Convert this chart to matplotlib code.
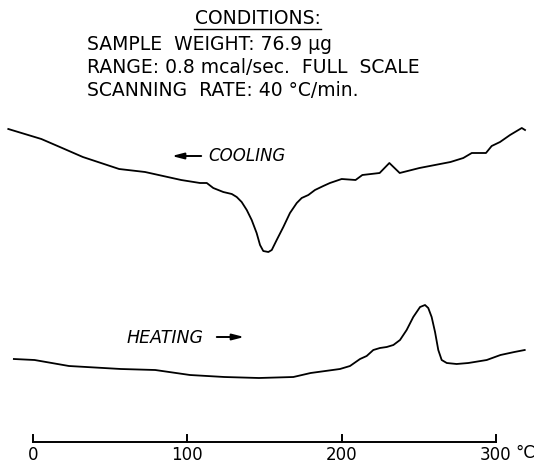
import matplotlib
matplotlib.use("Agg")
import matplotlib.pyplot as plt

# ---- data (temperature in °C, signal in arbitrary units) ----
cool_T = [-16.0, 5.4, 18.9, 32.3, 55.8, 72.6, 96.0, 108.2, 112.6, 116.8, 123.3,
          128.8, 132.0, 135.2, 138.5, 141.7, 144.9, 147.1, 149.2, 152.5, 154.7,
          157.9, 162.2, 166.5, 170.9, 174.1, 178.4, 182.7, 188.1, 192.4, 200.0,
          209.0, 213.4, 224.6, 230.9, 237.6, 250.4, 270.5, 278.8, 284.3, 293.5,
          297.2, 302.6, 309.1, 316.7, 318.8]
cool_S = [3.38, 3.28, 3.19, 3.10, 2.98, 2.95, 2.87, 2.84, 2.84, 2.79, 2.75,
          2.73, 2.70, 2.65, 2.57, 2.47, 2.34, 2.22, 2.16, 2.15, 2.17,
          2.27, 2.40, 2.54, 2.64, 2.69, 2.72, 2.77, 2.81, 2.84, 2.88,
          2.87, 2.92, 2.94, 3.04, 2.94, 2.99, 3.05, 3.09, 3.14, 3.14,
          3.21, 3.25, 3.32, 3.39, 3.37]

heat_T = [-12.4, 1.0, 23.3, 34.5, 56.9, 79.2, 101.7, 124.0, 146.4, 168.7, 179.9,
          198.9, 205.4, 211.9, 216.2, 220.5, 224.8, 229.2, 233.5, 237.8, 242.1,
          246.4, 250.8, 254.0, 256.1, 258.3, 260.5, 262.6, 264.8, 268.1, 274.5,
          282.1, 294.0, 302.9, 311.9, 318.6]
heat_S = [1.08, 1.07, 1.01, 1.00, 0.98, 0.97, 0.92, 0.90, 0.89, 0.90, 0.94,
          0.98, 1.01, 1.08, 1.11, 1.17, 1.19, 1.20, 1.22, 1.27, 1.37,
          1.50, 1.60, 1.62, 1.59, 1.50, 1.35, 1.17, 1.07, 1.04, 1.03,
          1.04, 1.07, 1.12, 1.15, 1.17]

scale_ticks = [0, 100, 200, 300]
scale_labels = ["0", "100", "200", "300"]
scale_unit = "°C"

title_head = "CONDITIONS:"
title_lines = ["SAMPLE  WEIGHT: 76.9 μg",
               "RANGE: 0.8 mcal/sec.  FULL  SCALE",
               "SCANNING  RATE: 40 °C/min."]

W, H = 541, 467
fig = plt.figure(figsize=(W / 100, H / 100), dpi=100)
ax = fig.add_axes([0, 0, 1, 1])
px_per_deg = (496 - 33) / 300.0
ax.set_xlim(-33 / px_per_deg, (W - 33) / px_per_deg)
ax.set_ylim(0, H / 100)
ax.set_axis_off()

ax.plot(cool_T, cool_S, color="black", lw=1.3, solid_joinstyle="round")
ax.plot(heat_T, heat_S, color="black", lw=1.3, solid_joinstyle="round")

# scale bar
bar_y = 0.25
tick_top = 0.32
ax.plot([scale_ticks[0], scale_ticks[-1]], [bar_y, bar_y], color="black", lw=1.4)
for t, lab in zip(scale_ticks, scale_labels):
    ax.plot([t, t], [bar_y, tick_top], color="black", lw=1.4)
    ax.text(t, 0.12, lab, ha="center", va="center", fontsize=12)
ax.text(312.5, 0.135, scale_unit, ha="left", va="center", fontsize=12)

def fx(x):
    return x / W

def fy(y):
    return 1 - y / H

fig.text(fx(258), fy(19), title_head, ha="center", va="center", fontsize=13.5)
fig.add_artist(plt.Line2D([fx(194), fx(321)], [fy(29), fy(29)], color="black", lw=1.0))
for i, line in enumerate(title_lines):
    fig.text(fx(87), fy(44 + 23.3 * i), line, ha="left", va="center", fontsize=13.5)

# direction labels
fig.text(fx(208), fy(156), "COOLING", ha="left", va="center", fontsize=12, style="italic")
ax.annotate("", xy=(fx(169), fy(156)), xytext=(fx(204), fy(156)),
            xycoords="figure fraction", textcoords="figure fraction",
            arrowprops=dict(arrowstyle="-|>,head_length=0.7,head_width=0.18", color="black", lw=1.4))
fig.text(fx(127), fy(338), "HEATING", ha="left", va="center", fontsize=12.5, style="italic")
ax.annotate("", xy=(fx(247), fy(337)), xytext=(fx(214), fy(337)),
            xycoords="figure fraction", textcoords="figure fraction",
            arrowprops=dict(arrowstyle="-|>,head_length=0.7,head_width=0.18", color="black", lw=1.4))

fig.savefig("out.png", dpi=100)
